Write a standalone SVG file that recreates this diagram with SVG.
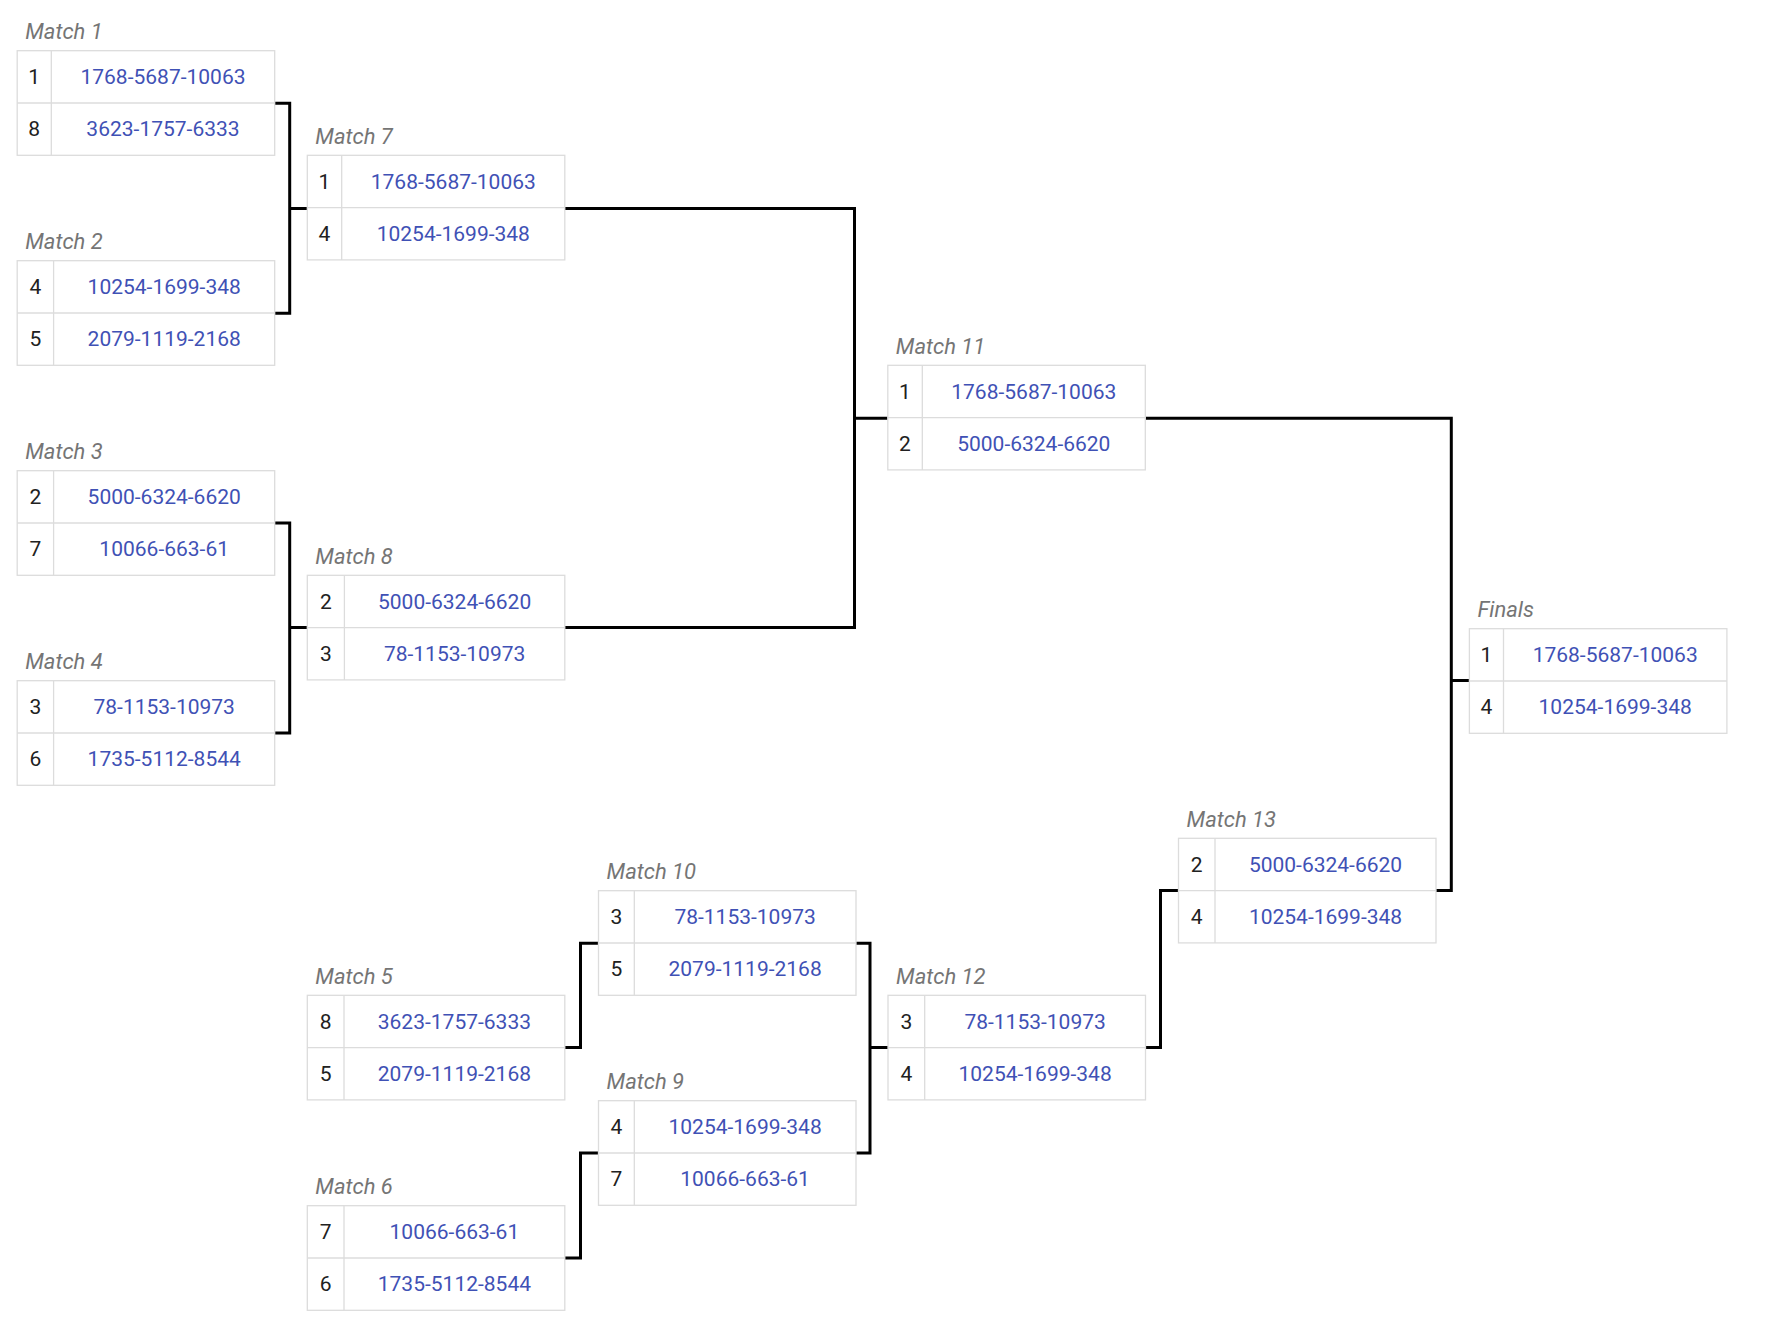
<svg xmlns="http://www.w3.org/2000/svg" width="1790" height="1318" viewBox="0 0 1790 1318">
<style>
.lbl{font-family:Roboto,"Liberation Sans",sans-serif;font-style:italic;font-size:22px;fill:#757575}
.seed{font-family:Roboto,"Liberation Sans",sans-serif;font-size:21px;fill:#212121;text-anchor:middle}
.name{font-family:Roboto,"Liberation Sans",sans-serif;font-size:21px;fill:#3f51b5;text-anchor:middle}
.box{fill:#fff;stroke:#dcdcdc;stroke-width:1.3}
.div{stroke:#dcdcdc;stroke-width:1.3}
.conn{fill:none;stroke:#000;stroke-width:3;stroke-linejoin:miter}
</style>
<rect width="1790" height="1318" fill="#fff"/>
<g id="connectors">
<path class="conn" d="M274.8 103.3H289.7V313.3H274.8M289.7 208.5H307.3"/>
<path class="conn" d="M274.8 523H289.7V733H274.8M289.7 627.6H307.3"/>
<path class="conn" d="M564.8 208.5H854.5V627.6H564.8M854.5 418.3H887.8"/>
<path class="conn" d="M564.8 1047.6H580.5V943.3H598.5"/>
<path class="conn" d="M564.8 1258H580.5V1153H598.5"/>
<path class="conn" d="M856 943.3H870V1153H856M870 1047.6H888"/>
<path class="conn" d="M1145.5 1047.6H1160.5V890.6H1178.5"/>
<path class="conn" d="M1145.3 418.3H1451.3V890.6H1436M1451.3 680.5H1469.4"/>
</g>
<g id="match1" transform="translate(17.2,50.7)">
<text class="lbl" x="8" y="-11.5">Match 1</text>
<rect class="box" width="257.5" height="104.6"/>
<line class="div" x1="0" y1="52.3" x2="257.5" y2="52.3"/><line class="div" x1="34.1" y1="0" x2="34.1" y2="104.6"/>
<text class="seed" x="17" y="33.3">1</text><text class="name" x="145.8" y="33.3">1768-5687-10063</text>
<text class="seed" x="17" y="85.6">8</text><text class="name" x="145.8" y="85.6">3623-1757-6333</text>
</g>
<g id="match2" transform="translate(17.2,260.7)">
<text class="lbl" x="8" y="-11.5">Match 2</text>
<rect class="box" width="257.5" height="104.6"/>
<line class="div" x1="0" y1="52.3" x2="257.5" y2="52.3"/><line class="div" x1="36.4" y1="0" x2="36.4" y2="104.6"/>
<text class="seed" x="18.2" y="33.3">4</text><text class="name" x="147" y="33.3">10254-1699-348</text>
<text class="seed" x="18.2" y="85.6">5</text><text class="name" x="147" y="85.6">2079-1119-2168</text>
</g>
<g id="match3" transform="translate(17.2,470.7)">
<text class="lbl" x="8" y="-11.5">Match 3</text>
<rect class="box" width="257.5" height="104.6"/>
<line class="div" x1="0" y1="52.3" x2="257.5" y2="52.3"/><line class="div" x1="36.4" y1="0" x2="36.4" y2="104.6"/>
<text class="seed" x="18.2" y="33.3">2</text><text class="name" x="147" y="33.3">5000-6324-6620</text>
<text class="seed" x="18.2" y="85.6">7</text><text class="name" x="147" y="85.6">10066-663-61</text>
</g>
<g id="match4" transform="translate(17.2,680.7)">
<text class="lbl" x="8" y="-11.5">Match 4</text>
<rect class="box" width="257.5" height="104.6"/>
<line class="div" x1="0" y1="52.3" x2="257.5" y2="52.3"/><line class="div" x1="36.4" y1="0" x2="36.4" y2="104.6"/>
<text class="seed" x="18.2" y="33.3">3</text><text class="name" x="147" y="33.3">78-1153-10973</text>
<text class="seed" x="18.2" y="85.6">6</text><text class="name" x="147" y="85.6">1735-5112-8544</text>
</g>
<g id="match7" transform="translate(307.3,155.3)">
<text class="lbl" x="8" y="-11.5">Match 7</text>
<rect class="box" width="257.5" height="104.6"/>
<line class="div" x1="0" y1="52.3" x2="257.5" y2="52.3"/><line class="div" x1="34.4" y1="0" x2="34.4" y2="104.6"/>
<text class="seed" x="17.2" y="33.3">1</text><text class="name" x="146" y="33.3">1768-5687-10063</text>
<text class="seed" x="17.2" y="85.6">4</text><text class="name" x="146" y="85.6">10254-1699-348</text>
</g>
<g id="match8" transform="translate(307.3,575.3)">
<text class="lbl" x="8" y="-11.5">Match 8</text>
<rect class="box" width="257.5" height="104.6"/>
<line class="div" x1="0" y1="52.3" x2="257.5" y2="52.3"/><line class="div" x1="37.1" y1="0" x2="37.1" y2="104.6"/>
<text class="seed" x="18.5" y="33.3">2</text><text class="name" x="147.3" y="33.3">5000-6324-6620</text>
<text class="seed" x="18.5" y="85.6">3</text><text class="name" x="147.3" y="85.6">78-1153-10973</text>
</g>
<g id="match5" transform="translate(307.3,995.3)">
<text class="lbl" x="8" y="-11.5">Match 5</text>
<rect class="box" width="257.5" height="104.6"/>
<line class="div" x1="0" y1="52.3" x2="257.5" y2="52.3"/><line class="div" x1="36.7" y1="0" x2="36.7" y2="104.6"/>
<text class="seed" x="18.3" y="33.3">8</text><text class="name" x="147.1" y="33.3">3623-1757-6333</text>
<text class="seed" x="18.3" y="85.6">5</text><text class="name" x="147.1" y="85.6">2079-1119-2168</text>
</g>
<g id="match6" transform="translate(307.3,1205.7)">
<text class="lbl" x="8" y="-11.5">Match 6</text>
<rect class="box" width="257.5" height="104.6"/>
<line class="div" x1="0" y1="52.3" x2="257.5" y2="52.3"/><line class="div" x1="36.7" y1="0" x2="36.7" y2="104.6"/>
<text class="seed" x="18.3" y="33.3">7</text><text class="name" x="147.1" y="33.3">10066-663-61</text>
<text class="seed" x="18.3" y="85.6">6</text><text class="name" x="147.1" y="85.6">1735-5112-8544</text>
</g>
<g id="match10" transform="translate(598.5,890.7)">
<text class="lbl" x="8" y="-11.5">Match 10</text>
<rect class="box" width="257.5" height="104.6"/>
<line class="div" x1="0" y1="52.3" x2="257.5" y2="52.3"/><line class="div" x1="35.8" y1="0" x2="35.8" y2="104.6"/>
<text class="seed" x="17.9" y="33.3">3</text><text class="name" x="146.6" y="33.3">78-1153-10973</text>
<text class="seed" x="17.9" y="85.6">5</text><text class="name" x="146.6" y="85.6">2079-1119-2168</text>
</g>
<g id="match9" transform="translate(598.5,1100.7)">
<text class="lbl" x="8" y="-11.5">Match 9</text>
<rect class="box" width="257.5" height="104.6"/>
<line class="div" x1="0" y1="52.3" x2="257.5" y2="52.3"/><line class="div" x1="35.8" y1="0" x2="35.8" y2="104.6"/>
<text class="seed" x="17.9" y="33.3">4</text><text class="name" x="146.6" y="33.3">10254-1699-348</text>
<text class="seed" x="17.9" y="85.6">7</text><text class="name" x="146.6" y="85.6">10066-663-61</text>
</g>
<g id="match11" transform="translate(887.8,365.3)">
<text class="lbl" x="8" y="-11.5">Match 11</text>
<rect class="box" width="257.5" height="104.6"/>
<line class="div" x1="0" y1="52.3" x2="257.5" y2="52.3"/><line class="div" x1="34.5" y1="0" x2="34.5" y2="104.6"/>
<text class="seed" x="17.2" y="33.3">1</text><text class="name" x="146" y="33.3">1768-5687-10063</text>
<text class="seed" x="17.2" y="85.6">2</text><text class="name" x="146" y="85.6">5000-6324-6620</text>
</g>
<g id="match12" transform="translate(888,995.3)">
<text class="lbl" x="8" y="-11.5">Match 12</text>
<rect class="box" width="257.5" height="104.6"/>
<line class="div" x1="0" y1="52.3" x2="257.5" y2="52.3"/><line class="div" x1="36.7" y1="0" x2="36.7" y2="104.6"/>
<text class="seed" x="18.3" y="33.3">3</text><text class="name" x="147.1" y="33.3">78-1153-10973</text>
<text class="seed" x="18.3" y="85.6">4</text><text class="name" x="147.1" y="85.6">10254-1699-348</text>
</g>
<g id="match13" transform="translate(1178.5,838.3)">
<text class="lbl" x="8" y="-11.5">Match 13</text>
<rect class="box" width="257.5" height="104.6"/>
<line class="div" x1="0" y1="52.3" x2="257.5" y2="52.3"/><line class="div" x1="36.5" y1="0" x2="36.5" y2="104.6"/>
<text class="seed" x="18.2" y="33.3">2</text><text class="name" x="147" y="33.3">5000-6324-6620</text>
<text class="seed" x="18.2" y="85.6">4</text><text class="name" x="147" y="85.6">10254-1699-348</text>
</g>
<g id="finals" transform="translate(1469.4,628.7)">
<text class="lbl" x="8" y="-11.5">Finals</text>
<rect class="box" width="257.5" height="104.6"/>
<line class="div" x1="0" y1="52.3" x2="257.5" y2="52.3"/><line class="div" x1="34.1" y1="0" x2="34.1" y2="104.6"/>
<text class="seed" x="17" y="33.3">1</text><text class="name" x="145.8" y="33.3">1768-5687-10063</text>
<text class="seed" x="17" y="85.6">4</text><text class="name" x="145.8" y="85.6">10254-1699-348</text>
</g>
</svg>
